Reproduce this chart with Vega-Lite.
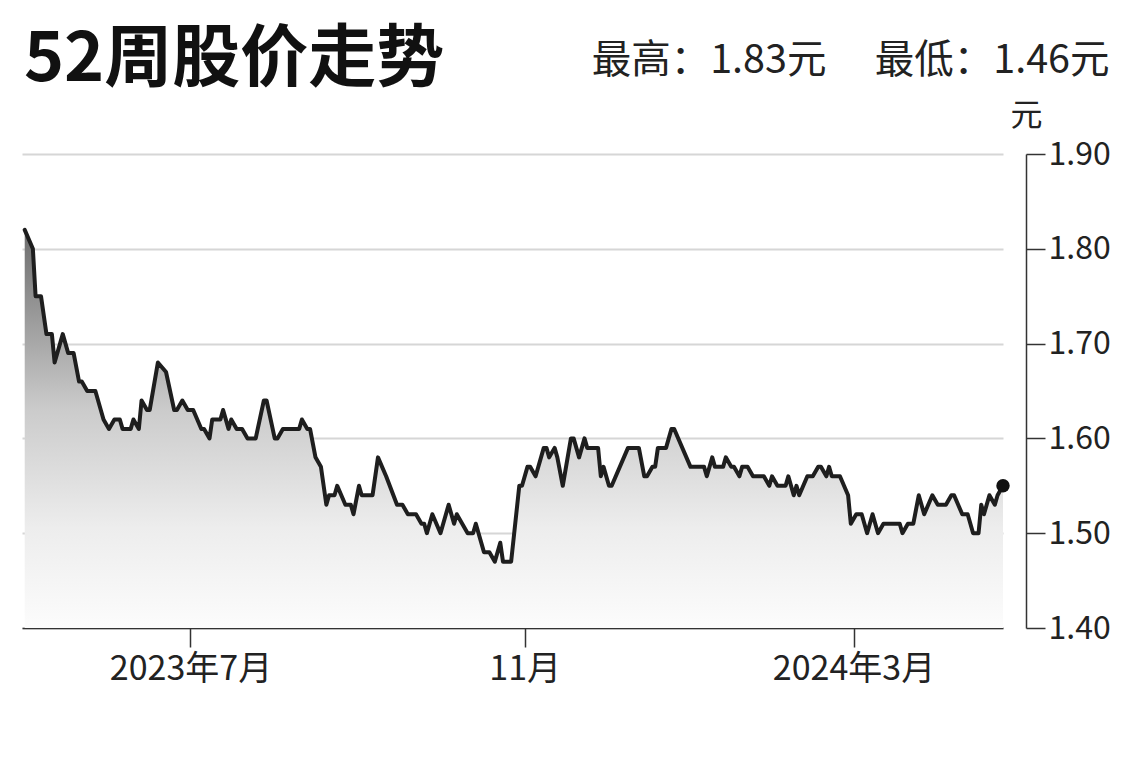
{
  "$schema": "https://vega.github.io/schema/vega-lite/v6.json",
  "autosize": "none",
  "width": 981,
  "height": 474,
  "padding": {"left": 22, "top": 154, "right": 137, "bottom": 132},
  "background": "white",
  "config": {"view": {"stroke": null}, "font": "Noto Sans CJK SC"},
  "title": {
    "text": "52周股价走势",
    "anchor": "start",
    "frame": "group",
    "fontSize": 68,
    "fontWeight": "bold",
    "font": "Noto Sans CJK SC",
    "color": "#111111",
    "dx": 2,
    "dy": 59
  },
  "data": {
    "values": [
      {"date": "2023-05-01", "price": 1.82},
      {"date": "2023-05-04", "price": 1.80},
      {"date": "2023-05-05", "price": 1.75},
      {"date": "2023-05-07", "price": 1.75},
      {"date": "2023-05-09", "price": 1.71},
      {"date": "2023-05-11", "price": 1.71},
      {"date": "2023-05-12", "price": 1.68},
      {"date": "2023-05-15", "price": 1.71},
      {"date": "2023-05-17", "price": 1.69},
      {"date": "2023-05-19", "price": 1.69},
      {"date": "2023-05-21", "price": 1.66},
      {"date": "2023-05-22", "price": 1.66},
      {"date": "2023-05-24", "price": 1.65},
      {"date": "2023-05-27", "price": 1.65},
      {"date": "2023-05-29", "price": 1.63},
      {"date": "2023-05-30", "price": 1.62},
      {"date": "2023-06-01", "price": 1.61},
      {"date": "2023-06-03", "price": 1.62},
      {"date": "2023-06-05", "price": 1.62},
      {"date": "2023-06-06", "price": 1.61},
      {"date": "2023-06-09", "price": 1.61},
      {"date": "2023-06-10", "price": 1.62},
      {"date": "2023-06-12", "price": 1.61},
      {"date": "2023-06-13", "price": 1.64},
      {"date": "2023-06-15", "price": 1.63},
      {"date": "2023-06-16", "price": 1.63},
      {"date": "2023-06-19", "price": 1.68},
      {"date": "2023-06-22", "price": 1.67},
      {"date": "2023-06-25", "price": 1.63},
      {"date": "2023-06-26", "price": 1.63},
      {"date": "2023-06-28", "price": 1.64},
      {"date": "2023-06-30", "price": 1.63},
      {"date": "2023-07-02", "price": 1.63},
      {"date": "2023-07-05", "price": 1.61},
      {"date": "2023-07-06", "price": 1.61},
      {"date": "2023-07-08", "price": 1.60},
      {"date": "2023-07-09", "price": 1.62},
      {"date": "2023-07-12", "price": 1.62},
      {"date": "2023-07-13", "price": 1.63},
      {"date": "2023-07-15", "price": 1.61},
      {"date": "2023-07-16", "price": 1.62},
      {"date": "2023-07-18", "price": 1.61},
      {"date": "2023-07-20", "price": 1.61},
      {"date": "2023-07-22", "price": 1.60},
      {"date": "2023-07-25", "price": 1.60},
      {"date": "2023-07-28", "price": 1.64},
      {"date": "2023-07-29", "price": 1.64},
      {"date": "2023-08-01", "price": 1.60},
      {"date": "2023-08-02", "price": 1.60},
      {"date": "2023-08-04", "price": 1.61},
      {"date": "2023-08-10", "price": 1.61},
      {"date": "2023-08-11", "price": 1.62},
      {"date": "2023-08-13", "price": 1.61},
      {"date": "2023-08-14", "price": 1.61},
      {"date": "2023-08-16", "price": 1.58},
      {"date": "2023-08-18", "price": 1.57},
      {"date": "2023-08-20", "price": 1.53},
      {"date": "2023-08-21", "price": 1.54},
      {"date": "2023-08-23", "price": 1.54},
      {"date": "2023-08-24", "price": 1.55},
      {"date": "2023-08-27", "price": 1.53},
      {"date": "2023-08-29", "price": 1.53},
      {"date": "2023-08-30", "price": 1.52},
      {"date": "2023-09-01", "price": 1.55},
      {"date": "2023-09-02", "price": 1.54},
      {"date": "2023-09-06", "price": 1.54},
      {"date": "2023-09-08", "price": 1.58},
      {"date": "2023-09-11", "price": 1.56},
      {"date": "2023-09-15", "price": 1.53},
      {"date": "2023-09-17", "price": 1.53},
      {"date": "2023-09-19", "price": 1.52},
      {"date": "2023-09-22", "price": 1.52},
      {"date": "2023-09-24", "price": 1.51},
      {"date": "2023-09-25", "price": 1.51},
      {"date": "2023-09-26", "price": 1.50},
      {"date": "2023-09-28", "price": 1.52},
      {"date": "2023-10-01", "price": 1.50},
      {"date": "2023-10-04", "price": 1.53},
      {"date": "2023-10-06", "price": 1.51},
      {"date": "2023-10-07", "price": 1.52},
      {"date": "2023-10-11", "price": 1.50},
      {"date": "2023-10-13", "price": 1.50},
      {"date": "2023-10-14", "price": 1.51},
      {"date": "2023-10-17", "price": 1.48},
      {"date": "2023-10-19", "price": 1.48},
      {"date": "2023-10-21", "price": 1.47},
      {"date": "2023-10-23", "price": 1.49},
      {"date": "2023-10-24", "price": 1.47},
      {"date": "2023-10-27", "price": 1.47},
      {"date": "2023-10-30", "price": 1.55},
      {"date": "2023-10-31", "price": 1.55},
      {"date": "2023-11-02", "price": 1.57},
      {"date": "2023-11-03", "price": 1.57},
      {"date": "2023-11-05", "price": 1.56},
      {"date": "2023-11-08", "price": 1.59},
      {"date": "2023-11-09", "price": 1.59},
      {"date": "2023-11-10", "price": 1.58},
      {"date": "2023-11-12", "price": 1.59},
      {"date": "2023-11-13", "price": 1.58},
      {"date": "2023-11-15", "price": 1.55},
      {"date": "2023-11-18", "price": 1.60},
      {"date": "2023-11-19", "price": 1.60},
      {"date": "2023-11-21", "price": 1.58},
      {"date": "2023-11-23", "price": 1.60},
      {"date": "2023-11-24", "price": 1.59},
      {"date": "2023-11-28", "price": 1.59},
      {"date": "2023-11-29", "price": 1.56},
      {"date": "2023-11-30", "price": 1.57},
      {"date": "2023-12-02", "price": 1.55},
      {"date": "2023-12-03", "price": 1.55},
      {"date": "2023-12-09", "price": 1.59},
      {"date": "2023-12-13", "price": 1.59},
      {"date": "2023-12-15", "price": 1.56},
      {"date": "2023-12-16", "price": 1.56},
      {"date": "2023-12-18", "price": 1.57},
      {"date": "2023-12-19", "price": 1.57},
      {"date": "2023-12-20", "price": 1.59},
      {"date": "2023-12-23", "price": 1.59},
      {"date": "2023-12-25", "price": 1.61},
      {"date": "2023-12-26", "price": 1.61},
      {"date": "2024-01-01", "price": 1.57},
      {"date": "2024-01-06", "price": 1.57},
      {"date": "2024-01-07", "price": 1.56},
      {"date": "2024-01-09", "price": 1.58},
      {"date": "2024-01-10", "price": 1.57},
      {"date": "2024-01-13", "price": 1.57},
      {"date": "2024-01-14", "price": 1.58},
      {"date": "2024-01-16", "price": 1.57},
      {"date": "2024-01-17", "price": 1.57},
      {"date": "2024-01-19", "price": 1.56},
      {"date": "2024-01-20", "price": 1.57},
      {"date": "2024-01-22", "price": 1.57},
      {"date": "2024-01-24", "price": 1.56},
      {"date": "2024-01-28", "price": 1.56},
      {"date": "2024-01-30", "price": 1.55},
      {"date": "2024-01-31", "price": 1.56},
      {"date": "2024-02-02", "price": 1.55},
      {"date": "2024-02-05", "price": 1.55},
      {"date": "2024-02-06", "price": 1.56},
      {"date": "2024-02-08", "price": 1.54},
      {"date": "2024-02-09", "price": 1.55},
      {"date": "2024-02-10", "price": 1.54},
      {"date": "2024-02-13", "price": 1.56},
      {"date": "2024-02-15", "price": 1.56},
      {"date": "2024-02-17", "price": 1.57},
      {"date": "2024-02-18", "price": 1.57},
      {"date": "2024-02-20", "price": 1.56},
      {"date": "2024-02-21", "price": 1.57},
      {"date": "2024-02-22", "price": 1.56},
      {"date": "2024-02-25", "price": 1.56},
      {"date": "2024-02-28", "price": 1.54},
      {"date": "2024-02-29", "price": 1.51},
      {"date": "2024-03-02", "price": 1.52},
      {"date": "2024-03-04", "price": 1.52},
      {"date": "2024-03-06", "price": 1.50},
      {"date": "2024-03-08", "price": 1.52},
      {"date": "2024-03-10", "price": 1.50},
      {"date": "2024-03-12", "price": 1.51},
      {"date": "2024-03-18", "price": 1.51},
      {"date": "2024-03-19", "price": 1.50},
      {"date": "2024-03-21", "price": 1.51},
      {"date": "2024-03-23", "price": 1.51},
      {"date": "2024-03-25", "price": 1.54},
      {"date": "2024-03-27", "price": 1.52},
      {"date": "2024-03-30", "price": 1.54},
      {"date": "2024-04-01", "price": 1.53},
      {"date": "2024-04-04", "price": 1.53},
      {"date": "2024-04-06", "price": 1.54},
      {"date": "2024-04-07", "price": 1.54},
      {"date": "2024-04-10", "price": 1.52},
      {"date": "2024-04-12", "price": 1.52},
      {"date": "2024-04-14", "price": 1.50},
      {"date": "2024-04-16", "price": 1.50},
      {"date": "2024-04-17", "price": 1.53},
      {"date": "2024-04-18", "price": 1.52},
      {"date": "2024-04-20", "price": 1.54},
      {"date": "2024-04-22", "price": 1.53},
      {"date": "2024-04-23", "price": 1.54},
      {"date": "2024-04-25", "price": 1.55}
    ]
  },
  "layer": [
    {
      "mark": {
        "type": "area",
        "line": false,
        "stroke": null,
        "fill": {
          "gradient": "linear",
          "x1": 0, "y1": 0, "x2": 0, "y2": 1,
          "stops": [
            {"offset": 0, "color": "#6c6c6c"},
            {"offset": 0.45, "color": "#cbcbcb"},
            {"offset": 0.75, "color": "#ededed"},
            {"offset": 1, "color": "#fcfcfc"}
          ]
        }
      },
      "encoding": {
        "x": {
          "field": "date",
          "type": "temporal",
          "scale": {
            "type": "utc",
            "domain": [
              {"year": 2023, "month": 4, "date": 30, "utc": true},
              {"year": 2024, "month": 4, "date": 25, "utc": true}
            ]
          },
          "axis": {
            "orient": "bottom",
            "values": [
              {"year": 2023, "month": 7, "date": 1, "utc": true},
              {"year": 2023, "month": 11, "date": 1, "utc": true},
              {"year": 2024, "month": 3, "date": 1, "utc": true}
            ],
            "labelExpr": "utcmonth(datum.value) == 10 ? '11月' : utcyear(datum.value) + '年' + (utcmonth(datum.value) + 1) + '月'",
            "grid": false,
            "title": null,
            "domainColor": "#333333",
            "domainWidth": 1.5,
            "tickColor": "#333333",
            "tickWidth": 1.5,
            "tickSize": 19,
            "labelFont": "Noto Sans CJK SC",
            "labelFontSize": 34,
            "labelColor": "#222222",
            "labelPadding": 5
          }
        },
        "y": {
          "field": "price",
          "type": "quantitative",
          "scale": {"domain": [1.4, 1.9], "zero": false},
          "axis": {
            "orient": "right",
            "offset": 23,
            "values": [1.4, 1.5, 1.6, 1.7, 1.8, 1.9],
            "format": ".2f",
            "grid": true,
            "gridColor": "#d6d6d6",
            "gridWidth": 2,
            "domainColor": "#333333",
            "domainWidth": 1.5,
            "tickColor": "#333333",
            "tickWidth": 1.5,
            "tickSize": 19,
            "labelFont": "Noto Sans CJK SC",
            "labelFontSize": 32,
            "labelColor": "#222222",
            "labelPadding": 3,
            "title": "元",
            "titleFont": "Noto Sans CJK SC",
            "titleFontSize": 32,
            "titleFontWeight": "normal",
            "titleColor": "#222222",
            "titleAngle": 0,
            "titleX": 0,
            "titleY": -22,
            "titleAlign": "center",
            "titleBaseline": "bottom"
          }
        },
        "y2": {"datum": 1.4}
      }
    },
    {
      "mark": {"type": "line", "color": "#1e1e1e", "strokeWidth": 4, "strokeJoin": "round", "strokeCap": "round"},
      "encoding": {
        "x": {"field": "date", "type": "temporal", "axis": null},
        "y": {"field": "price", "type": "quantitative"}
      }
    },
    {
      "transform": [
        {"window": [{"op": "row_number", "as": "rn"}], "sort": [{"field": "date", "order": "descending"}]},
        {"filter": "datum.rn == 1"}
      ],
      "mark": {"type": "point", "filled": true, "color": "#111111", "size": 180, "opacity": 1},
      "encoding": {
        "x": {
          "field": "date",
          "type": "temporal",
          "axis": {
            "orient": "top",
            "domain": false,
            "ticks": false,
            "labels": false,
            "grid": false,
            "title": "最高：1.83元　 最低：1.46元",
            "titleFont": "Noto Sans CJK SC",
            "titleFontSize": 39.5,
            "titleFontWeight": "normal",
            "titleColor": "#222222",
            "titleX": 1087,
            "titleY": -82,
            "titleAlign": "right",
            "titleAnchor": "end",
            "titleBaseline": "alphabetic"
          }
        },
        "y": {"field": "price", "type": "quantitative"}
      }
    }
  ],
  "resolve": {"axis": {"x": "independent"}}
}
